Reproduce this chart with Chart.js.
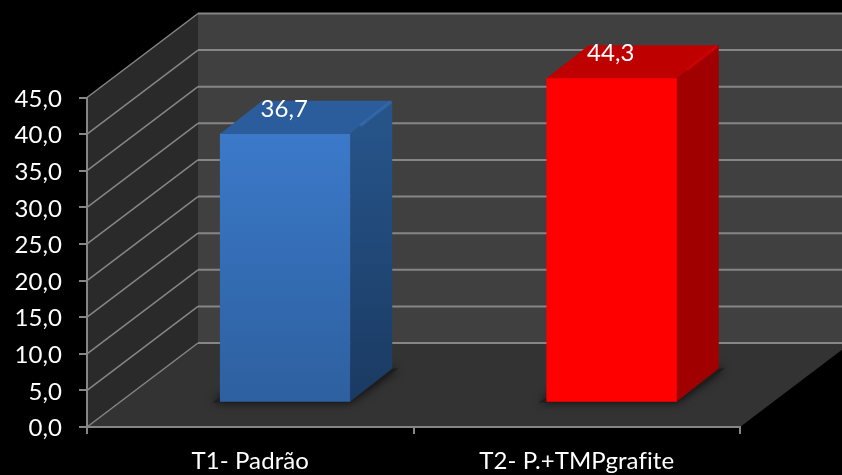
<!DOCTYPE html>
<html lang="pt">
<head>
<meta charset="utf-8">
<title>T1 x T2</title>
<script src="https://cdn.jsdelivr.net/npm/chart.js@4"></script>
<style>
    html, body { margin: 0; padding: 0; background: #000; overflow: hidden; }
    canvas { display: block; }
</style>
</head>
<body>
<canvas id="chart" width="842" height="475"></canvas>
<script>
// data
const categories = ['T1- Padrão', 'T2- P.+TMPgrafite'];
const seriesValues = [36.7, 44.3];
const valueLabels = ['36,7', '44,3'];
const yTickLabels = ['0,0', '5,0', '10,0', '15,0', '20,0', '25,0', '30,0', '35,0', '40,0', '45,0'];

// 3D box settings
const wallDepth = { x: 111, y: -84 };
const barShift = { x: 35, y: -24.5 };
const barDepth = { x: 42, y: -33 };
const faces = [
    { top: '#2b5c9b', side: ['#265388', '#1a3a62'], front: ['#3b79c9', '#2d609f'], edge: 'rgba(70,130,210,0.35)' },
    { top: '#bf0000', side: ['#a00000', '#a00000'], front: ['#ff0000', '#ff0000'], edge: 'rgba(255,0,0,0.35)' }
];
const FONT = 'Lato, "Open Sans", sans-serif';

function poly(ctx, pts, fill) {
    ctx.beginPath();
    pts.forEach((p, i) => i ? ctx.lineTo(p[0], p[1]) : ctx.moveTo(p[0], p[1]));
    ctx.closePath();
    ctx.fillStyle = fill;
    ctx.fill();
}

// back wall, side wall, floor and their gridlines
const walls = {
    id: 'walls',
    beforeDraw(chart) {
        const { ctx, chartArea: a, scales: { y } } = chart;
        const dx = wallDepth.x, dy = wallDepth.y;
        // a tiny spacing keeps "fi" from joining into a ligature
        ctx.letterSpacing = '0.1px';
        ctx.save();
        poly(ctx, [[a.left + dx, a.top + dy], [a.right + dx, a.top + dy], [a.right + dx, a.bottom + dy], [a.left + dx, a.bottom + dy]], '#404040');
        poly(ctx, [[a.left, a.top], [a.left + dx, a.top + dy], [a.left + dx, a.bottom + dy], [a.left, a.bottom]], '#2a2a2a');
        poly(ctx, [[a.left, a.bottom], [a.right, a.bottom], [a.right + dx, a.bottom + dy], [a.left + dx, a.bottom + dy]], '#333333');
        ctx.strokeStyle = '#868686';
        y.ticks.forEach(t => {
            const py = y.getPixelForValue(t.value);
            ctx.lineWidth = 1.5;
            ctx.beginPath();
            ctx.moveTo(a.left, py);
            ctx.lineTo(a.left + dx, py + dy);
            ctx.stroke();
            ctx.lineWidth = 2;
            ctx.beginPath();
            ctx.moveTo(a.left + dx, py + dy);
            ctx.lineTo(a.right + dx, py + dy);
            ctx.stroke();
        });
        ctx.restore();
    }
};

// floor shadow, side and top faces; the bars themselves are shifted into the middle of the depth
const box3d = {
    id: 'box3d',
    beforeDatasetDraw(chart, args) {
        const { ctx } = chart;
        const bars = args.meta.data;
        ctx.save();
        bars.forEach(bar => {
            const l = bar.x - bar.width / 2 + barShift.x, r = l + bar.width, b = bar.base + barShift.y;
            ctx.save();
            ctx.shadowColor = 'rgba(0,0,0,0.75)';
            ctx.shadowBlur = 10;
            poly(ctx, [[l - 8, b + 1], [r, b + 1], [r + barDepth.x + 6, b + barDepth.y], [l + barDepth.x, b + barDepth.y]], '#1e1e1e');
            ctx.restore();
        });
        ctx.translate(barShift.x, barShift.y);
    },
    afterDatasetDraw(chart, args) {
        const { ctx } = chart;
        const dx = barDepth.x, dy = barDepth.y;
        args.meta.data.forEach((bar, i) => {
            const l = bar.x - bar.width / 2, r = bar.x + bar.width / 2;
            const f = faces[i];
            const g = ctx.createLinearGradient(0, bar.y, 0, bar.base);
            g.addColorStop(0, f.side[0]);
            g.addColorStop(1, f.side[1]);
            poly(ctx, [[r, bar.y], [r + dx, bar.y + dy], [r + dx, bar.base + dy], [r, bar.base]], g);
            poly(ctx, [[l, bar.y], [r, bar.y], [r + dx, bar.y + dy], [l + dx, bar.y + dy]], f.top);
            // lighter bevel along the top right edge
            ctx.strokeStyle = f.edge;
            ctx.lineWidth = 3;
            ctx.beginPath();
            ctx.moveTo(r + 10, bar.y - 8);
            ctx.lineTo(r + dx - 1, bar.y + dy + 1);
            ctx.stroke();
        });
        // value labels sit on the top face
        ctx.fillStyle = '#ffffff';
        ctx.font = '24px ' + FONT;
        ctx.textAlign = 'center';
        ctx.textBaseline = 'middle';
        args.meta.data.forEach((bar, i) => {
            ctx.fillText(valueLabels[i], bar.x - 1, bar.y - 25);
        });
        ctx.restore();
    }
};

new Chart(document.getElementById('chart'), {
    type: 'bar',
    data: {
        labels: categories,
        datasets: [{
            data: seriesValues,
            barThickness: 130,
            clip: false,
            borderWidth: 0,
            backgroundColor(c) {
                const area = c.chart.chartArea;
                if (!area || c.dataIndex === undefined) return faces[0].front[0];
                const top = c.chart.scales.y.getPixelForValue(seriesValues[c.dataIndex]);
                const g = c.chart.ctx.createLinearGradient(0, top, 0, c.chart.scales.y.getPixelForValue(0));
                g.addColorStop(0, faces[c.dataIndex].front[0]);
                g.addColorStop(1, faces[c.dataIndex].front[1]);
                return g;
            }
        }]
    },
    plugins: [walls, box3d],
    options: {
        responsive: false,
        animation: false,
        events: [],
        layout: { padding: { top: 97.5, right: 102, left: 0, bottom: 0 } },
        plugins: { legend: { display: false }, tooltip: { enabled: false } },
        scales: {
            x: {
                grid: { drawOnChartArea: false, color: '#868686', lineWidth: 2, tickLength: 7 },
                border: { color: '#868686', width: 2 },
                ticks: { color: '#ffffff', font: { family: FONT, size: 24 }, padding: 13, maxRotation: 0 },
                afterFit(s) { s.height = 48; }
            },
            y: {
                min: 0,
                max: 45,
                grid: { drawOnChartArea: false, color: '#868686', lineWidth: 2, tickLength: 8 },
                border: { color: '#868686', width: 2 },
                ticks: {
                    color: '#ffffff',
                    stepSize: 5,
                    font: { family: FONT, size: 24 },
                    padding: 17,
                    labelOffset: 1.5,
                    callback: (v, i) => yTickLabels[i]
                },
                afterFit(s) { s.width = 87; }
            }
        }
    }
});
</script>
</body>
</html>
